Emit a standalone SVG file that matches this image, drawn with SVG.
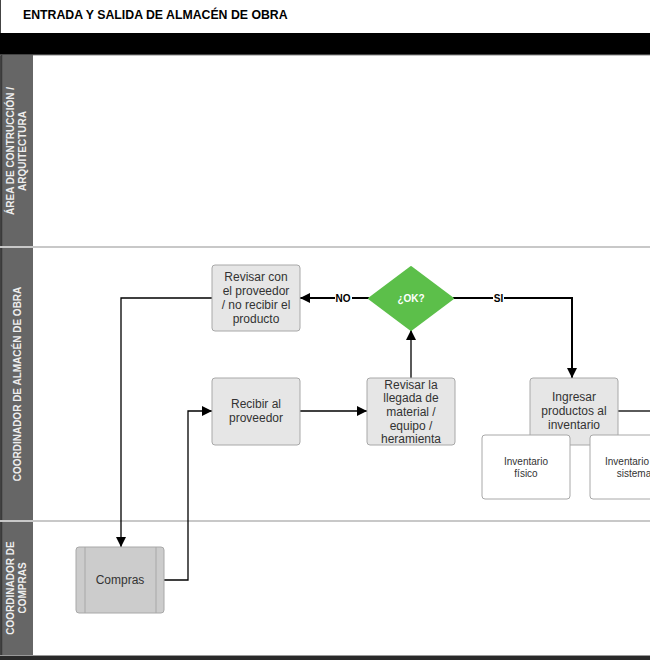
<svg xmlns="http://www.w3.org/2000/svg" width="650" height="660" viewBox="0 0 650 660">
<defs>
<marker id="arr" viewBox="0 0 10 10" refX="10" refY="5" markerWidth="10" markerHeight="10" markerUnits="userSpaceOnUse" orient="auto">
<path d="M0,0 L10,5 L0,10 Z" fill="#000"/>
</marker>
</defs>
<style>
.lane-label{font-family:"Liberation Sans",Arial,sans-serif;font-size:10px;font-weight:bold;fill:#eeeeee;text-anchor:middle}
.box{fill:#e6e6e6;stroke:#a8a8a8;stroke-width:1}
.sub{fill:#cccccc;stroke:#a8a8a8;stroke-width:1}
.white{fill:#ffffff;stroke:#a8a8a8;stroke-width:1}
.t{font-family:"Liberation Sans",Arial,sans-serif;font-size:12px;fill:#333333;text-anchor:middle}
.ts{font-family:"Liberation Sans",Arial,sans-serif;font-size:10px;fill:#333333;text-anchor:middle}
.lbl{font-family:"Liberation Sans",Arial,sans-serif;font-size:10px;font-weight:bold;fill:#000;text-anchor:middle}
.c{fill:none;stroke:#000;stroke-width:1.3}
.c2{fill:none;stroke:#000;stroke-width:2}
.sep{stroke:#c8c8c8;stroke-width:2}
</style>
<rect x="0" y="0" width="650" height="660" fill="#ffffff"/>
<g id="title">
<text x="23" y="19" font-family="Liberation Sans,Arial,sans-serif" font-size="12.3" font-weight="bold" fill="#000">ENTRADA Y SALIDA DE ALMACÉN DE OBRA</text>
</g>
<g id="frame">
<line x1="0.5" y1="0" x2="0.5" y2="660" stroke="#444" stroke-width="1"/>
<rect x="0" y="33" width="650" height="22" fill="#000"/>
<line x1="0" y1="55" x2="650" y2="55" stroke="#888" stroke-width="1"/>
<rect x="1" y="55" width="32" height="601" fill="#666666"/>
<line x1="1.5" y1="55" x2="1.5" y2="656" stroke="#3a3a3a" stroke-width="1.5"/>
<line x1="0" y1="247" x2="650" y2="247" class="sep"/>
<line x1="0" y1="521" x2="650" y2="521" class="sep"/>
<line x1="0" y1="655.5" x2="650" y2="655.5" stroke="#999" stroke-width="1"/>
<rect x="0" y="656" width="650" height="4" fill="#2a2a2a"/>
</g>
<g id="lane1">
<text class="lane-label" transform="translate(14,151) rotate(-90)">ÁREA DE CONTRUCCIÓN /</text>
<text class="lane-label" transform="translate(26,151) rotate(-90)">ARQUITECTURA</text>
</g>
<g id="lane2">
<text class="lane-label" transform="translate(20.5,384) rotate(-90)">COORDINADOR DE ALMACÉN DE OBRA</text>
</g>
<g id="lane3">
<text class="lane-label" transform="translate(14,588) rotate(-90)">COORDINADOR DE</text>
<text class="lane-label" transform="translate(26,588) rotate(-90)">COMPRAS</text>
</g>
<g id="connectors">
<path class="c" d="M212,298 H121 V547" marker-end="url(#arr)"/>
<path class="c" d="M164,580 H188 V411 H212" marker-end="url(#arr)"/>
<path class="c" d="M300,411 H367" marker-end="url(#arr)"/>
<path class="c" d="M411,378 V330" marker-end="url(#arr)"/>
<path class="c2" d="M369,298 H300" marker-end="url(#arr)"/>
<path class="c2" d="M453,298 H572 V378" marker-end="url(#arr)"/>
<path class="c" d="M618,411 H650"/>
<rect x="335" y="292" width="17" height="11" fill="#fff"/>
<text class="lbl" x="343" y="301.5">NO</text>
<rect x="493" y="292" width="11" height="11" fill="#fff"/>
<text class="lbl" x="498.5" y="301.5">SI</text>
</g>
<g id="revisar-proveedor">
<rect class="box" x="212" y="265" width="88" height="66" rx="3"/>
<text class="t" x="256" y="281">Revisar con</text>
<text class="t" x="256" y="295">el proveedor</text>
<text class="t" x="256" y="309">/ no recibir el</text>
<text class="t" x="256" y="323">producto</text>
</g>
<g id="ok">
<path d="M411,267 L453,298.5 L411,330 L369,298.5 Z" fill="#5cbf4a" stroke="#5cbf4a" stroke-linejoin="round" stroke-width="2"/>
<text x="411" y="302" font-family="Liberation Sans,Arial,sans-serif" font-size="10" font-weight="bold" fill="#ffffff" text-anchor="middle">¿OK?</text>
</g>
<g id="recibir">
<rect class="box" x="212" y="378" width="88" height="67" rx="3"/>
<text class="t" x="256" y="408">Recibir al</text>
<text class="t" x="256" y="422">proveedor</text>
</g>
<g id="revisar-llegada">
<rect class="box" x="367" y="378" width="88" height="67" rx="3"/>
<text class="t" x="411" y="388.5">Revisar la</text>
<text class="t" x="411" y="402.2">llegada de</text>
<text class="t" x="411" y="415.9">material /</text>
<text class="t" x="411" y="429.6">equipo /</text>
<text class="t" x="411" y="443.3">heramienta</text>
</g>
<g id="ingresar">
<rect class="box" x="530" y="378" width="88" height="67" rx="3"/>
<text class="t" x="574" y="401">Ingresar</text>
<text class="t" x="574" y="415">productos al</text>
<text class="t" x="574" y="429">inventario</text>
</g>
<g id="inv-fisico">
<rect class="white" x="482" y="435" width="88" height="64" rx="3"/>
<text class="ts" x="526" y="465">Inventario</text>
<text class="ts" x="526" y="477">físico</text>
</g>
<g id="inv-sistema">
<rect class="white" x="590" y="435" width="88" height="64" rx="3"/>
<text class="ts" x="627" y="465">Inventario</text>
<text class="ts" x="634" y="477">sistema</text>
</g>
<g id="compras">
<rect class="sub" x="76" y="547" width="88" height="66" rx="3"/>
<line x1="85" y1="547" x2="85" y2="613" stroke="#a8a8a8"/>
<line x1="156" y1="547" x2="156" y2="613" stroke="#a8a8a8"/>
<text class="t" x="120" y="584">Compras</text>
</g>
</svg>
